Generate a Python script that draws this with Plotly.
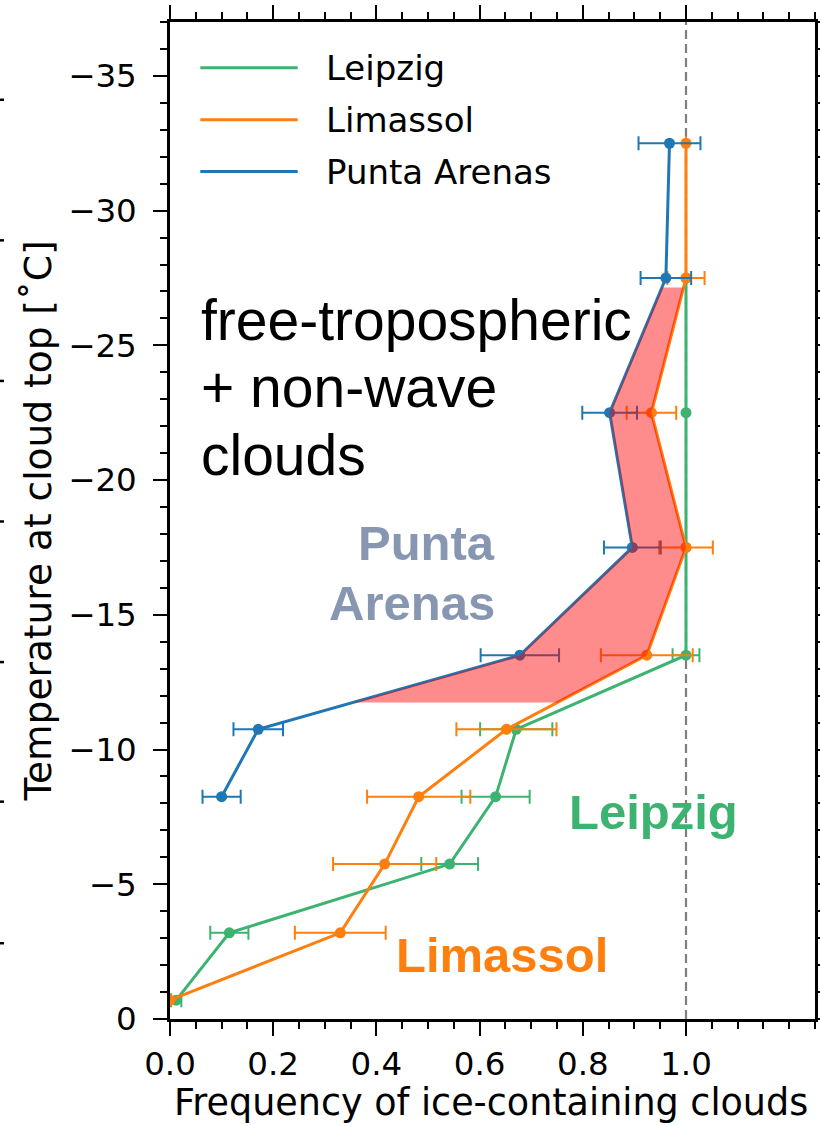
import numpy as np
import plotly.graph_objects as go

# ---------------- data ----------------
series_names = ["Leipzig", "Limassol", "Punta Arenas"]
series_colors = ["#3cb371", "#ff7f0e", "#1f77b4"]

temps_leipzig = [-27.5, -22.5, -17.5, -13.5, -10.75, -8.25, -5.75, -3.2, -0.7]
freq_leipzig = [1.0, 1.0, 1.0, 1.0, 0.671, 0.631, 0.542, 0.115, 0.012]
err_leipzig = [0.0, 0.0, 0.0, 0.026, 0.070, 0.066, 0.055, 0.037, 0.010]

temps_limassol = [-32.5, -27.5, -22.5, -17.5, -13.5, -10.75, -8.25, -5.75, -3.2, -0.7]
freq_limassol = [1.0, 1.0, 0.933, 1.0, 0.924, 0.652, 0.482, 0.416, 0.330, 0.0]
err_limassol = [0.0, 0.036, 0.048, 0.052, 0.089, 0.097, 0.100, 0.100, 0.088, 0.0]

temps_punta = [-32.5, -27.5, -22.5, -17.5, -13.5, -10.75, -8.25]
freq_punta = [0.968, 0.961, 0.852, 0.896, 0.678, 0.171, 0.100]
err_punta = [0.060, 0.049, 0.053, 0.055, 0.076, 0.048, 0.037]

# shaded band between Punta Arenas and Limassol
fill_top = -27.15
fill_bottom = -11.75

x_tickvals = [0.0, 0.2, 0.4, 0.6, 0.8, 1.0]
x_ticktext = ["0.0", "0.2", "0.4", "0.6", "0.8", "1.0"]
y_tickvals = [0, -5, -10, -15, -20, -25, -30, -35]
x_range = [0, 1.25]
y_range = [0, -37]
reference_x = 1.0

x_title = "Frequency of ice-containing clouds"
y_title = "Temperature at cloud top [˚C]"

# stray tick marks of the neighbouring (cropped) panel, paper fractions
ghost_ticks = [0.076, 0.218, 0.358, 0.499, 0.640, 0.781, 0.922]

# ---------------- figure ----------------
fig = go.Figure()

series = [
    (temps_leipzig, freq_leipzig, err_leipzig),
    (temps_limassol, freq_limassol, err_limassol),
    (temps_punta, freq_punta, err_punta),
]

for name, color, (t, f, e) in zip(series_names, series_colors, series):
    fig.add_trace(go.Scatter(
        x=f, y=t, name=name, mode="lines+markers",
        line=dict(color=color, width=3),
        marker=dict(color=color, size=11),
        error_x=dict(type="data", array=e, visible=True, color=color,
                     thickness=2, width=7),
        showlegend=False,
    ))

# fill between Punta Arenas (left) and Limassol (right)
tp = np.array(temps_punta, dtype=float)      # ascending
fp = np.array(freq_punta, dtype=float)
tl = np.array(temps_limassol, dtype=float)
fl = np.array(freq_limassol, dtype=float)
inner = sorted({t for t in temps_punta + temps_limassol if fill_top < t < fill_bottom})
ygrid = np.array([fill_top] + inner + [fill_bottom])
x_left = np.interp(ygrid, tp, fp)
x_right = np.interp(ygrid, tl, fl)
poly_x = list(x_left) + list(x_right[::-1]) + [x_left[0]]
poly_y = list(ygrid) + list(ygrid[::-1]) + [ygrid[0]]
fig.add_trace(go.Scatter(
    x=poly_x, y=poly_y, mode="lines", fill="toself",
    fillcolor="rgba(255,0,0,0.45)", line=dict(width=0),
    hoverinfo="skip", showlegend=False,
))

fig.add_vline(x=reference_x, line=dict(color="#7f7f7f", width=2.2, dash="9px,5px"),
              layer="below")

# ---------------- axes ----------------
tick_font = dict(family="DejaVu Sans", size=32.5, color="black")
fig.update_xaxes(
    range=x_range, tickmode="array", tickvals=x_tickvals, ticktext=x_ticktext,
    showgrid=False, zeroline=False, showline=True, linecolor="black", linewidth=2.5,
    mirror="ticks", ticks="outside", ticklen=14, tickwidth=2, tickcolor="black",
    tickfont=tick_font, ticklabelstandoff=0, automargin=False,
    minor=dict(tickmode="linear", tick0=0, dtick=0.05, ticks="outside",
               ticklen=7, tickwidth=2, tickcolor="black", showgrid=False),
)
fig.update_yaxes(
    range=y_range, tickmode="array", tickvals=y_tickvals,
    showgrid=False, zeroline=False, showline=True, linecolor="black", linewidth=2.5,
    mirror="ticks", ticks="outside", ticklen=14, tickwidth=2, tickcolor="black",
    tickfont=tick_font, ticklabelstandoff=10, automargin=False,
    minor=dict(tickmode="linear", tick0=0, dtick=1, ticks="outside",
               ticklen=7, tickwidth=2, tickcolor="black", showgrid=False),
    title=dict(text=y_title,
               font=dict(family="DejaVu Sans", size=37.5, color="black"), standoff=6),
)

# x-axis title placed as an annotation below the tick labels (box bottom at figure edge)
fig.add_annotation(xref="paper", yref="paper", x=0.497, y=-0.1068,
                   xanchor="center", yanchor="bottom", showarrow=False,
                   text=x_title, borderpad=0,
                   font=dict(family="DejaVu Sans", size=36.5, color="black"))

# ---------------- legend (drawn manually for long line samples) ----------------
legend_rows = [0.954, 0.902, 0.850]
for name, color, yy in zip(series_names, series_colors, legend_rows):
    fig.add_shape(type="line", xref="paper", yref="paper",
                  x0=0.047, x1=0.198, y0=yy, y1=yy,
                  line=dict(color=color, width=3))
    fig.add_annotation(xref="paper", yref="paper", x=0.238, y=yy,
                       xanchor="left", yanchor="middle", showarrow=False,
                       text=name, font=dict(family="DejaVu Sans", size=34, color="black"))

# ---------------- text labels ----------------
big = dict(family="Liberation Sans, Arial", size=57, color="black")
for txt, yy in zip(["free-tropospheric", "+ non-wave", "clouds"], [0.701, 0.634, 0.566]):
    fig.add_annotation(xref="paper", yref="paper", x=0.045, y=yy,
                       xanchor="left", yanchor="middle", showarrow=False,
                       text=txt, font=big)

bold_font = "Liberation Sans, Arial"
for txt, yy in zip(["Punta", "Arenas"], [0.477, 0.417]):
    fig.add_annotation(xref="paper", yref="paper", x=0.507, y=yy,
                       xanchor="right", yanchor="middle", showarrow=False,
                       text="<b>" + txt + "</b>",
                       font=dict(family=bold_font, size=49, color="#8797b2"))
fig.add_annotation(xref="paper", yref="paper", x=0.616, y=0.2076,
                   xanchor="left", yanchor="middle", showarrow=False,
                   text="<b>" + series_names[0] + "</b>",
                   font=dict(family=bold_font, size=49, color=series_colors[0]))
fig.add_annotation(xref="paper", yref="paper", x=0.348, y=0.0637,
                   xanchor="left", yanchor="middle", showarrow=False,
                   text="<b>" + series_names[1] + "</b>",
                   font=dict(family=bold_font, size=49, color=series_colors[1]))

# stray ticks at the far left (from a neighbouring cropped panel)
for gy in ghost_ticks:
    fig.add_shape(type="line", xref="paper", yref="paper",
                  x0=-0.2636, x1=-0.2574, y0=gy, y1=gy,
                  line=dict(color="black", width=2.5))

fig.update_layout(
    width=820, height=1126,
    margin=dict(l=170, r=5, t=22, b=107),
    plot_bgcolor="white", paper_bgcolor="white",
    showlegend=False,
)

fig.write_html("out.html")
